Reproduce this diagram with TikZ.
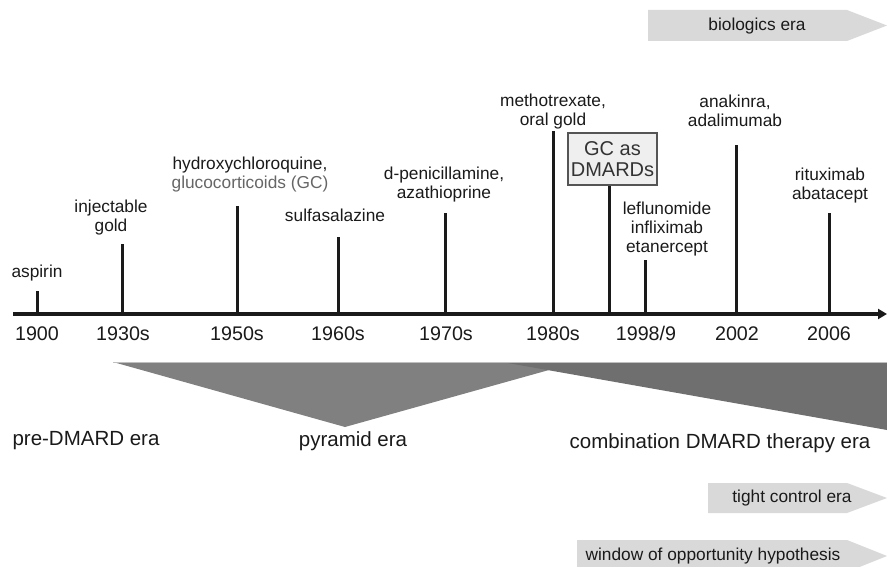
\documentclass[tikz,border=0pt]{standalone}
\usepackage{fontspec}
\setmainfont{Liberation Sans}
\usetikzlibrary{arrows.meta}
\definecolor{ink}{HTML}{1A1A1A}
\definecolor{gctext}{HTML}{666666}
\definecolor{pyr}{HTML}{808080}
\definecolor{comb}{HTML}{6F6F6F}
\definecolor{erafill}{HTML}{D9D9D9}
\definecolor{gcbox}{HTML}{EFEFEF}
\definecolor{gcborder}{HTML}{555555}
\tikzset{
  drug/.style={align=center, text=ink, font=\fontsize{17.3}{19}\selectfont, inner sep=0pt},
  yearlbl/.style={text=ink, font=\fontsize{19.7}{22}\selectfont, inner sep=0pt, anchor=base},
  eralbl/.style={text=ink, font=\fontsize{20.5}{23}\selectfont, inner sep=0pt},
  tickline/.style={draw=ink, line width=3pt},
  erabar/.style={fill=erafill, draw=none},
  eratxt/.style={text=ink, font=\fontsize{17.3}{19}\selectfont, inner sep=0pt},
}
\begin{document}
\begin{tikzpicture}[x=1pt,y=-1pt]
\useasboundingbox (0,0) rectangle (887,567);
% era arrows (top / bottom)
\fill[erabar] (648,10) -- (847,10) -- (887,25.5) -- (847,41) -- (648,41) -- cycle;
\node[eratxt] (bio) at (757,26) {biologics era};
\fill[erabar] (708,483) -- (847,483) -- (887,498) -- (847,513) -- (708,513) -- cycle;
\node[eratxt] (tight) at (792,498) {tight control era};
\fill[erabar] (577,540) -- (847,540) -- (887,556) -- (847,572) -- (577,572) -- cycle;
\node[eratxt] (window) at (713,556) {window of opportunity hypothesis};
% triangles
\fill[pyr] (113,362) -- (549,362) -- (549,370) -- (345,427) -- cycle;
\fill[comb] (502,362) -- (887,362) -- (887,430) -- cycle;
\draw[gray!50, line width=0.8pt] (113,362) -- (887,362);
% era labels
\node[eralbl] (pre) at (86,441) {pre-DMARD era};
\node[eralbl] (pyramid) at (353,441) {pyramid era};
\node[eralbl] (combo) at (720,443) {combination DMARD therapy era};
% axis
\coordinate (axstart) at (13,314);
\coordinate (axend) at (887,314);
\draw[ink, line width=3.2pt, -{Triangle[length=9pt,width=10pt]}] (axstart) -- (axend);
% tick points on the axis
\coordinate (a1) at (37,314);
\coordinate (a2) at (122,314);
\coordinate (a3) at (237,314);
\coordinate (a4) at (338,314);
\coordinate (a5) at (445,314);
\coordinate (a6) at (553,314);
\coordinate (a7) at (609,314);
\coordinate (a8) at (645,314);
\coordinate (a9) at (736,314);
\coordinate (a10) at (829,314);
% tick tops
\coordinate (b1) at (37,291);
\coordinate (b2) at (122,244);
\coordinate (b3) at (237,206);
\coordinate (b4) at (338,237);
\coordinate (b5) at (445,213);
\coordinate (b6) at (553,131);
\coordinate (b8) at (645,260);
\coordinate (b9) at (736,145);
\coordinate (b10) at (829,213);
\foreach \i in {1,2,3,4,5,6,8,9,10} {\draw[tickline] (a\i) -- (b\i);}
% GC box
\node[draw=gcborder, line width=1.6pt, fill=gcbox, text=black!80, align=center,
      font=\fontsize{20}{21}\selectfont, inner sep=2pt, minimum width=89pt, minimum height=52pt]
      (gc) at (612.5,159) {GC as\\DMARDs};
\draw[tickline] (a7) -- (gc.south -| a7);
% year labels
\node[yearlbl] (y1) at (37,340) {1900};
\node[yearlbl] (y2) at (123,340) {1930s};
\node[yearlbl] (y3) at (237,340) {1950s};
\node[yearlbl] (y4) at (338,340) {1960s};
\node[yearlbl] (y5) at (446,340) {1970s};
\node[yearlbl] (y6) at (553,340) {1980s};
\node[yearlbl] (y7) at (646,340) {1998/9};
\node[yearlbl] (y8) at (737,340) {2002};
\node[yearlbl] (y9) at (829,340) {2006};
% drug labels
\node[drug] (d1) at (37,273) {aspirin};
\node[drug] (d2) at (111,218) {injectable\\gold};
\node[drug] (d3) at (250,175) {hydroxychloroquine,\\\textcolor{gctext}{glucocorticoids (GC)}};
\node[drug] (d4) at (335,215) {sulfasalazine};
\node[drug] (d5) at (444,185) {d-penicillamine,\\azathioprine};
\node[drug] (d6) at (553,112) {methotrexate,\\oral gold};
\node[drug] (d8) at (667,229) {leflunomide\\infliximab\\etanercept};
\node[drug] (d9) at (735,111) {anakinra,\\adalimumab};
\node[drug] (d10) at (830,186) {rituximab\\abatacept};
\end{tikzpicture}
\end{document}
